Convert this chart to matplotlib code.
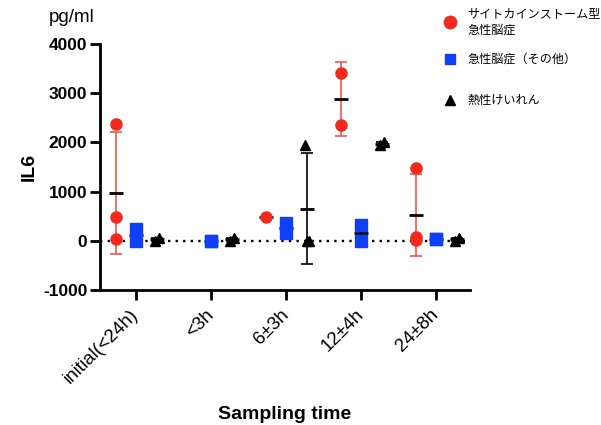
import matplotlib
matplotlib.use("Agg")
import matplotlib.pyplot as plt
import numpy as np

plt.rcParams['font.family'] = ['Liberation Sans', 'Noto Sans CJK JP', 'DejaVu Sans']
plt.rcParams['axes.unicode_minus'] = False

groups = ['initial(<24h)', '<3h', '6±3h', '12±4h', '24±8h']

# IL6 (pg/ml) per sampling time, one list per patient group
cytokine = [[2380, 490, 30], [], [480], [3420, 2350], [1480, 70, 15]]
other = [[240, 0], [0, 0], [350, 160], [320, 0], [40, 30]]
febrile = [[0, 50], [0, 50], [1950, 0, 0], [1950, 2000], [0, 50]]

labels = ['サイトカインストーム型\n急性脳症', '急性脳症（その他）', '熱性けいれん']
colors = ['#f5281e', '#1040f5', 'black']
ebar_colors = ['#f3564c', '#1040f5', 'black']
markers = ['o', 's', '^']
offsets = [-0.27, 0.0, 0.28]

fig = plt.figure(figsize=(6.01, 4.25), dpi=100)
ax = fig.add_axes([0.166, 0.318, 0.616, 0.5785])

ax.axhline(0, ls=(0, (1, 2.2)), color='black', lw=1.7, zorder=0)

handles = []
for series, col, ecol, mk, off, lab in zip([cytokine, other, febrile], colors, ebar_colors,
                                           markers, offsets, labels):
    for i, vals in enumerate(series):
        if len(vals) == 0:
            continue
        x = i + off
        vals = np.array(vals, dtype=float)
        m = vals.mean()
        if len(vals) > 1:
            sd = vals.std(ddof=1)
            ax.errorbar(x, m, yerr=sd, color=ecol, lw=1.2, capsize=4, capthick=1.2, zorder=2)
        ax.plot(x, m, marker='_', ms=10, mew=2, color='black', zorder=3)
        if mk == '^' and len(vals) > 1:
            jit = np.linspace(-0.03, 0.03, len(vals))
        else:
            jit = np.zeros(len(vals))
        ax.plot(x + jit, vals, ls='none', marker=mk, ms=8 if mk != '^' else 7.5,
                color=col, mec=col, zorder=4)
    h, = ax.plot([], [], ls='none', marker=mk, ms=9 if mk == 'o' else 7.5, color=col, label=lab)
    handles.append(h)

ax.set_xlim(-0.48, 4.45)
ax.set_ylim(-1000, 4000)
ax.set_yticks(np.arange(-1000, 4001, 1000))
ax.set_xticks(range(len(groups)))
ax.set_xticklabels(groups, rotation=45, ha='right', va='center', rotation_mode='anchor',
                   fontsize=13.5)
for t in ax.get_yticklabels():
    t.set_fontweight('bold')
    t.set_fontsize(12.5)

for s in ['top', 'right']:
    ax.spines[s].set_visible(False)
for s in ['left', 'bottom']:
    ax.spines[s].set_linewidth(2)
ax.tick_params(axis='both', length=7, width=2, pad=2)
ax.tick_params(axis='x', pad=9)

ax.set_ylabel('IL6', fontsize=14, fontweight='bold', labelpad=4)
ax.set_xlabel('Sampling time', fontsize=14, fontweight='bold', labelpad=14)
fig.text(0.082, 1 - 17 / 425, 'pg/ml', fontsize=13.5, va='center')

# one legend per row, GraphPad spaces them unevenly
row_y = [22, 60, 101]
for h, y in zip(handles, row_y):
    leg = fig.legend(handles=[h], loc='center left', bbox_to_anchor=(443 / 601, 1 - y / 425),
                     frameon=False, fontsize=8.7, handletextpad=0.8, handlelength=1.2,
                     borderpad=0, borderaxespad=0)
    for t in leg.get_texts():
        t.set_linespacing(1.5)

fig.savefig('out.png', dpi=100)
